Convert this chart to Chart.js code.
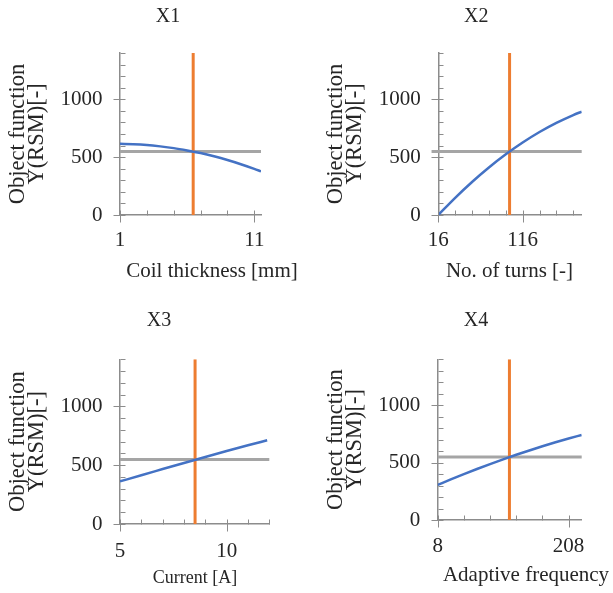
<!DOCTYPE html>
<html>
<head>
<meta charset="utf-8">
<script src="https://cdn.jsdelivr.net/npm/chart.js@4/dist/chart.umd.min.js"></script>
<style>
html,body{margin:0;padding:0;background:#fff;width:613px;height:593px;overflow:hidden;position:relative}
canvas{position:absolute}
</style>
</head>
<body>
<canvas id="c1" width="306" height="296" style="left:0;top:0"></canvas>
<canvas id="c2" width="307" height="296" style="left:306px;top:0"></canvas>
<canvas id="c3" width="306" height="297" style="left:0;top:296px"></canvas>
<canvas id="c4" width="307" height="297" style="left:306px;top:296px"></canvas>
<script>
// ---------------- data ----------------
const panelTitles = ['X1', 'X2', 'X3', 'X4'];
const xAxisTitles = ['Coil thickness [mm]', 'No. of turns [-]', 'Current [A]', 'Adaptive frequency'];
const yAxisTitle = ['Object function', 'Y(RSM)[-]'];

const yAxisMin = 0;
const yAxisMax = 1400;
const yTickLabels = [0, 500, 1000];
const yMinorTicks = [0, 100, 200, 300, 400, 500, 600, 700, 800, 900, 1000, 1100, 1200, 1300, 1400];

// X1: coil thickness
const x1Values = [1, 2, 3, 4, 5, 6, 7, 8, 9, 10, 11, 11.5];
const y1Values = [615, 612, 605, 593, 578, 558, 535, 507, 475, 439, 399, 377];
const x1Range = [1, 11.5];
const x1TickLabels = [1, 11];
const x1MinorTicks = [1, 3, 5, 7, 9, 11];

// X2: number of turns
const x2Values = [16, 36, 56, 76, 96, 116, 136, 156, 176, 186];
const y2Values = [0, 148, 285, 410, 524, 626, 717, 796, 864, 893];
const x2Range = [16, 186];
const x2TickLabels = [16, 116];
const x2MinorTicks = [16, 36, 56, 76, 96, 116, 136, 156, 176];

// X3: current
const x3Values = [5, 6, 7, 8, 9, 10, 11, 11.9];
const y3Values = [362, 415, 467, 519, 570, 620, 669, 712];
const x3Range = [5, 12];
const x3TickLabels = [5, 10];
const x3MinorTicks = [5, 6, 7, 8, 9, 10, 11, 12];

// X4: adaptive frequency
const x4Values = [8, 28, 48, 68, 88, 108, 128, 148, 168, 188, 208, 228];
const y4Values = [306, 354, 400, 444, 487, 528, 568, 606, 642, 677, 710, 741];
const x4Range = [8, 228];
const x4TickLabels = [8, 208];
const x4MinorTicks = [8, 48, 88, 128, 168, 208];

// optimum (vertical orange line) and response at optimum (horizontal gray line)
const optimumX = [6.45, 100.5, 8.52, 117.6];
const optimumY = 548;
const refLineStartX = [1, 8, 5, 8];

// ---------------- style ----------------
const FONT = "'Liberation Serif', 'Times New Roman', serif";
const BLUE = '#4472C4';
const ORANGE = '#ED7D31';
const GRAY = '#A5A5A5';
const AXIS = '#8c8c8c';
const TEXT = '#262626';

const panelDeco = {
  id: 'panelDeco',
  afterDraw(chart, args, o) {
    const {ctx, scales: {x, y}, chartArea} = chart;
    ctx.save();
    ctx.strokeStyle = AXIS;
    ctx.lineWidth = 1;
    ctx.beginPath();
    const ax = Math.round(chartArea.left) + 0.5;
    const ay = Math.round(chartArea.bottom) + 0.5;
    o.yMinor.forEach(v => {
      const py = Math.round(y.getPixelForValue(v)) + 0.5;
      const major = o.yMajor.includes(v);
      ctx.moveTo(ax - (major ? 7 : 0), py);
      ctx.lineTo(ax + 5, py);
    });
    o.xMinor.forEach(v => {
      const px = Math.round(x.getPixelForValue(v)) + 0.5;
      const major = o.xMajor.includes(v);
      ctx.moveTo(px, ay - 5);
      ctx.lineTo(px, ay + (major ? 7 : 0));
    });
    ctx.stroke();
    ctx.fillStyle = TEXT;
    ctx.textAlign = 'center';
    ctx.textBaseline = 'middle';
    // panel title
    ctx.font = '20px ' + FONT;
    ctx.fillText(o.title, o.titleX, o.titleY);
    // x axis title (drawn without width compression)
    ctx.font = o.xTitleSize + 'px ' + FONT;
    ctx.fillText(o.xTitle, o.xTitleX, o.xTitleY);
    ctx.restore();
  }
};

const panels = [
  {id: 'c1', xs: x1Values, ys: y1Values, range: x1Range, ticks: x1TickLabels, minor: x1MinorTicks,
   W: 306, H: 296, L: 120, R: 261, T: 53, B: 215, xTitleX: 212, xTitleY: 271, xTitleSize: 21,
   xLabelPad: 12.4, yTitlePad: 8.5, titleX: 168, titleY: 16.7},
  {id: 'c2', xs: x2Values, ys: y2Values, range: x2Range, ticks: x2TickLabels, minor: x2MinorTicks,
   W: 307, H: 296, L: 132.3, R: 275.7, T: 53, B: 215, xTitleX: 203.5, xTitleY: 271, xTitleSize: 21,
   xLabelPad: 12.9, yTitlePad: 20.5, titleX: 170.3, titleY: 16.7},
  {id: 'c3', xs: x3Values, ys: y3Values, range: x3Range, ticks: x3TickLabels, minor: x3MinorTicks,
   W: 306, H: 297, L: 120, R: 269.3, T: 63.3, B: 228, xTitleX: 195, xTitleY: 282, xTitleSize: 18,
   xLabelPad: 14.9, yTitlePad: 8.5, titleX: 159, titleY: 25},
  {id: 'c4', xs: x4Values, ys: y4Values, range: x4Range, ticks: x4TickLabels, minor: x4MinorTicks,
   W: 307, H: 297, L: 131.7, R: 275.7, T: 63.3, B: 224, xTitleX: 220, xTitleY: 279, xTitleSize: 21,
   xLabelPad: 14.1, yTitlePad: 20.5, titleX: 170, titleY: 25}
];

panels.forEach((p, i) => {
  const Hx = p.H - p.B - 4;
  new Chart(document.getElementById(p.id), {
    type: 'line',
    data: {
      datasets: [
        {label: 'Y(RSM)', data: p.xs.map((x, k) => ({x: x, y: p.ys[k]})),
         borderColor: BLUE, borderWidth: 2.5, pointRadius: 0, cubicInterpolationMode: 'monotone', fill: false},
        {label: 'Optimum', data: [{x: optimumX[i], y: yAxisMin}, {x: optimumX[i], y: yAxisMax}],
         borderColor: ORANGE, borderWidth: 3, pointRadius: 0, fill: false},
        {label: 'Reference', data: [{x: refLineStartX[i], y: optimumY}, {x: p.range[1], y: optimumY}],
         borderColor: GRAY, borderWidth: 3, pointRadius: 0, fill: false, clip: false}
      ]
    },
    options: {
      responsive: false, animation: false, devicePixelRatio: 1,
      layout: {padding: {left: 0, top: p.T, right: p.W - p.R, bottom: 4}},
      plugins: {
        legend: {display: false}, tooltip: {enabled: false}, title: {display: false},
        panelDeco: {yMinor: yMinorTicks, yMajor: yTickLabels, xMinor: p.minor, xMajor: p.ticks,
                    title: panelTitles[i], titleX: p.titleX, titleY: p.titleY,
                    xTitle: xAxisTitles[i], xTitleX: p.xTitleX, xTitleY: p.xTitleY, xTitleSize: p.xTitleSize}
      },
      scales: {
        x: {
          type: 'linear', min: p.range[0], max: p.range[1],
          grid: {display: false, drawTicks: false},
          border: {display: true, color: AXIS, width: 1.5},
          ticks: {color: TEXT, font: {family: FONT, size: 21}, padding: p.xLabelPad,
                  maxRotation: 0, autoSkip: false, callback: v => String(v)},
          afterBuildTicks: s => { s.ticks = p.ticks.map(v => ({value: v})); },
          afterFit: s => { s.height = Hx; },
          title: {display: false}
        },
        y: {
          type: 'linear', min: yAxisMin, max: yAxisMax,
          grid: {display: false, drawTicks: false},
          border: {display: true, color: AXIS, width: 1.5},
          ticks: {color: TEXT, font: {family: FONT, size: 21}, padding: 17.5, autoSkip: false,
                  callback: v => String(v)},
          afterBuildTicks: s => { s.ticks = yTickLabels.map(v => ({value: v})); },
          afterFit: s => { s.width = p.L; },
          title: {display: true, text: yAxisTitle, color: TEXT,
                  font: {family: FONT, size: 22.5, lineHeight: 0.84}, padding: {top: p.yTitlePad, bottom: 0}}
        }
      }
    },
    plugins: [panelDeco]
  });
});
</script>
</body>
</html>
